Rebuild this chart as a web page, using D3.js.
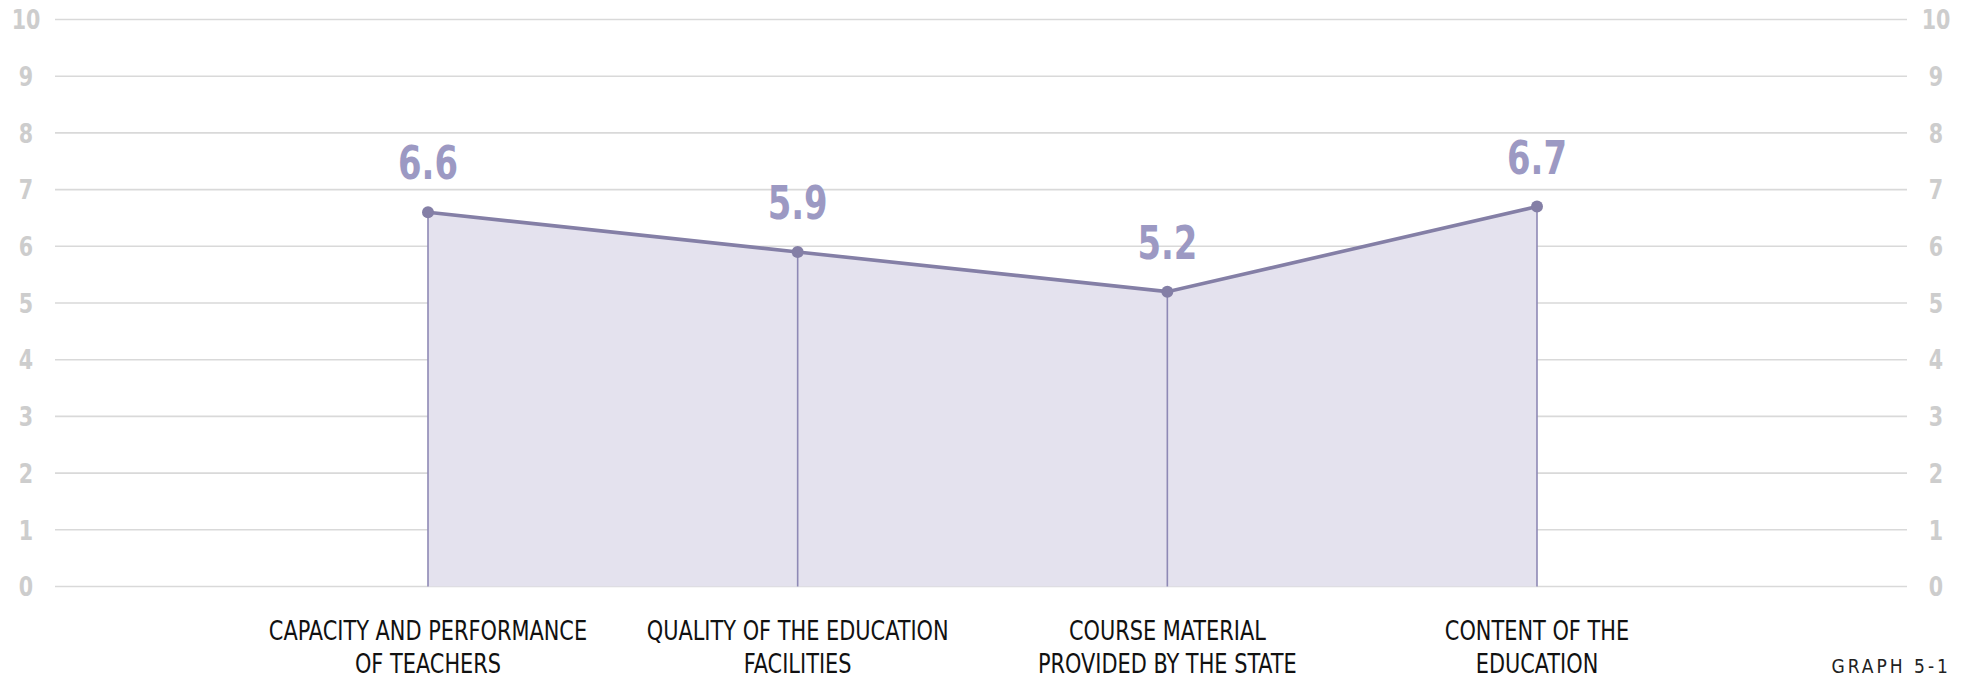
<!DOCTYPE html>
<html>
<head>
<meta charset="utf-8">
<script src="https://cdn.jsdelivr.net/npm/d3@7"></script>
<style>
  body { margin: 0; background: #fff; }
  text { font-family: "Liberation Sans Narrow", "DejaVu Sans Condensed", sans-serif; }
</style>
</head>
<body>
<div id="chart"></div>
<script>
const categories = [
  ["CAPACITY AND PERFORMANCE", "OF TEACHERS"],
  ["QUALITY OF THE EDUCATION", "FACILITIES"],
  ["COURSE MATERIAL", "PROVIDED BY THE STATE"],
  ["CONTENT OF THE", "EDUCATION"],
];
const scores = [6.6, 5.9, 5.2, 6.7];
const yTicks = [0, 1, 2, 3, 4, 5, 6, 7, 8, 9, 10];

const width = 1968;
const height = 680;
const plot = { left: 55, right: 1907, top: 19.5, bottom: 586.5 };

const svg = d3
  .select("#chart")
  .append("svg")
  .attr("width", width)
  .attr("height", height);

const x = d3
  .scalePoint()
  .domain(d3.range(categories.length))
  .range([428, 1537]);

const y = d3.scaleLinear().domain([0, 10]).range([plot.bottom, plot.top]);

// the font on hand is wider than the original one, so squeeze it a bit
const squeeze = (tx, ty, s) => `translate(${tx},${ty}) scale(${s},1)`;

// gridlines
svg
  .append("g")
  .selectAll("line")
  .data(yTicks)
  .enter()
  .append("line")
  .attr("x1", plot.left)
  .attr("x2", plot.right)
  .attr("y1", (d) => y(d))
  .attr("y2", (d) => y(d))
  .attr("stroke", "#d9d9d9")
  .attr("stroke-width", 1.6);

// tick labels on both sides
[26, 1936].forEach((tx) => {
  svg
    .append("g")
    .selectAll("text")
    .data(yTicks)
    .enter()
    .append("text")
    .attr("transform", (d) => squeeze(tx, y(d), 0.85))
    .attr("dy", "0.36em")
    .attr("text-anchor", "middle")
    .attr("font-size", 27)
    .attr("font-weight", "bold")
    .attr("fill", "#cdcdcd")
    .text((d) => d);
});

const pts = scores.map((v, i) => ({ i, v }));

// area under the line
const area = d3
  .area()
  .x((d) => x(d.i))
  .y0(y(0))
  .y1((d) => y(d.v));

svg.append("path").datum(pts).attr("d", area).attr("fill", "#e4e2ee");

// drop lines
svg
  .append("g")
  .selectAll("line")
  .data(pts)
  .enter()
  .append("line")
  .attr("x1", (d) => x(d.i))
  .attr("x2", (d) => x(d.i))
  .attr("y1", (d) => y(d.v))
  .attr("y2", y(0))
  .attr("stroke", "#8e89b5")
  .attr("stroke-width", 1.6);

const line = d3
  .line()
  .x((d) => x(d.i))
  .y((d) => y(d.v));

svg
  .append("path")
  .datum(pts)
  .attr("d", line)
  .attr("fill", "none")
  .attr("stroke", "#847fa6")
  .attr("stroke-width", 3.6);

svg
  .append("g")
  .selectAll("circle")
  .data(pts)
  .enter()
  .append("circle")
  .attr("cx", (d) => x(d.i))
  .attr("cy", (d) => y(d.v))
  .attr("r", 6)
  .attr("fill", "#847fa6");

// value labels
svg
  .append("g")
  .selectAll("text")
  .data(pts)
  .enter()
  .append("text")
  .attr("transform", (d) => squeeze(x(d.i), y(d.v) - 33, 0.8))
  .attr("text-anchor", "middle")
  .attr("font-size", 47)
  .attr("font-weight", "bold")
  .attr("fill", "#9c99c3")
  .text((d) => d.v.toFixed(1));

// category labels
const cat = svg
  .append("g")
  .selectAll("text")
  .data(categories)
  .enter()
  .append("text")
  .attr("transform", (d, i) => squeeze(x(i), 0, 0.86))
  .attr("text-anchor", "middle")
  .attr("font-size", 27)
  .attr("fill", "#111");

cat
  .selectAll("tspan")
  .data((d) => d)
  .enter()
  .append("tspan")
  .attr("x", 0)
  .attr("y", (d, j) => 640 + j * 33)
  .text((d) => d);

svg
  .append("text")
  .attr("x", 1951)
  .attr("y", 673)
  .attr("text-anchor", "end")
  .attr("font-family", "'Open Sans', sans-serif")
  .attr("font-size", 19)
  .attr("letter-spacing", 3)
  .attr("fill", "#222")
  .text("GRAPH 5-1");
</script>
</body>
</html>
